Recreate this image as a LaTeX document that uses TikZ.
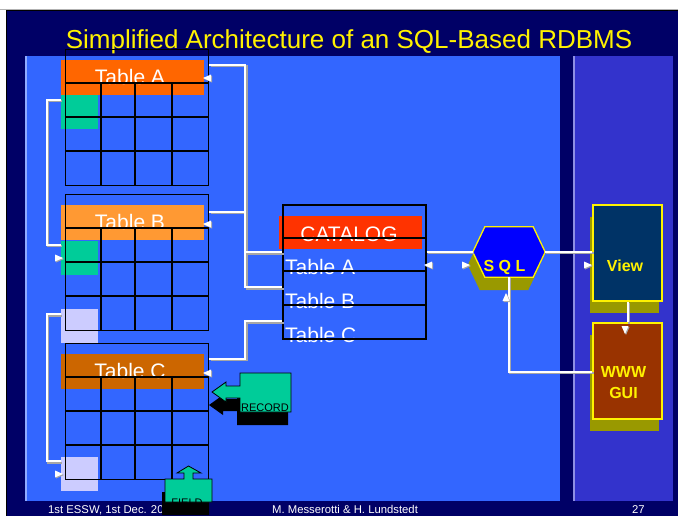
\documentclass[tikz,border=0pt]{standalone}
\usepackage{fontspec}
\setmainfont{Liberation Sans}
\usetikzlibrary{shadows}
\definecolor{slidenavy}{HTML}{000066}
\definecolor{panelblue}{HTML}{3366FF}
\definecolor{panelviolet}{HTML}{3333CC}
\definecolor{hdrA}{HTML}{FF6600}
\definecolor{hdrB}{HTML}{FF9933}
\definecolor{hdrC}{HTML}{CC6600}
\definecolor{hdrcat}{HTML}{FF3300}
\definecolor{keygreen}{HTML}{00CC99}
\definecolor{lilac}{HTML}{CCCCFF}
\definecolor{sqlblue}{HTML}{0000FF}
\definecolor{viewblue}{HTML}{003366}
\definecolor{wwwbrown}{HTML}{993300}
\definecolor{olivesh}{HTML}{999900}
\tikzset{
  tablebox/.style={draw=black,line width=1.3pt,minimum width=143pt,minimum height=136pt,inner sep=0pt},
  catbox/.style={draw=black,line width=1.3pt,minimum width=143pt,minimum height=134pt,inner sep=0pt},
  gridline/.style={black,line width=1.3pt},
  keybox/.style={minimum width=37pt,minimum height=34pt,inner sep=0pt},
  hdrtext/.style={white,inner sep=0pt,anchor=base,font=\fontsize{21}{24}\selectfont},
  celltext/.style={white,inner sep=0pt,anchor=base west,font=\fontsize{21}{24}\selectfont},
  titletext/.style={yellow,inner sep=0pt,anchor=base,font=\fontsize{26}{30}\selectfont},
  foottext/.style={white,inner sep=0pt,anchor=base west,font=\fontsize{11.3}{13}\selectfont},
  boldlabel/.style={yellow,inner sep=0pt,font=\bfseries\fontsize{16}{21}\selectfont},
  calltext/.style={black,inner sep=0pt,anchor=base,font=\fontsize{11}{13}\selectfont},
  yellowsh/.style={drop shadow={shadow xshift=-3pt,shadow yshift=-12pt,fill=olivesh,opacity=1}},
  blacksh/.style={drop shadow={shadow xshift=-3pt,shadow yshift=-13pt,fill=black,opacity=1}},
  appbox/.style={draw=yellow,line width=1.3pt,minimum width=69pt,minimum height=96pt,inner sep=0pt,yellowsh},
  callout/.style={fill=keygreen,draw=black,line width=0.8pt,blacksh},
  link/.style={draw=white,line width=2pt,preaction={draw=gray!70,line width=2pt,transform canvas={shift={(1.2pt,-1.2pt)}}}}
}
\newcommand\linktip[3]{%
  \fill[gray!70,shift={(#1+1,#2+1)},rotate=#3] (0,0) -- (-8,-3.5) -- (-8,3.5) -- cycle;
  \fill[white,shift={(#1,#2)},rotate=#3] (0,0) -- (-8,-3.5) -- (-8,3.5) -- cycle;}
\begin{document}
\begin{tikzpicture}[x=1pt,y=-1pt]
\useasboundingbox (0,0) rectangle (678,515);
\fill[white] (0,0) rectangle (678,515);
\draw[gray!60,line width=1pt] (0,9) -- (678,9);
\filldraw[fill=slidenavy,draw=black,line width=1pt] (6,10) rectangle (679,516);
\fill[panelblue] (25,56) rectangle (560,501);
\fill[panelblue!55!white] (25,56) rectangle (27,501);
\fill[panelviolet] (573,56) rectangle (673,501);
\fill[panelviolet!55!white] (573,56) rectangle (575,501);
\node[titletext] (title) at (349,48) {Simplified Architecture of an SQL-Based RDBMS};

\node[keybox,fill=keygreen] (kA) at (79.5,112) {};
\node[keybox,fill=keygreen] (kB) at (79.5,258) {};
\node[keybox,fill=lilac] (lB) at (79.5,325.5) {};
\node[keybox,fill=lilac] (lC) at (79.5,473.5) {};
\foreach \t/\top/\hdr in {A/49/hdrA,B/194/hdrB,C/343/hdrC}{
  \fill[\hdr] (61,\top+11) rectangle (204,\top+46);
  \node[hdrtext] at (130,\top+35) {Table \t};
  \node[tablebox,anchor=north west] (t\t) at (65,\top) {};
  \foreach \yy in {34,68,102} \draw[gridline] (65,\top+\yy) -- (208,\top+\yy);
  \foreach \xx in {101,135,172} \draw[gridline] (\xx,\top+34) -- (\xx,\top+136);
}

\fill[hdrcat] (279,216) rectangle (422,249);
\node[hdrtext] at (349,241) {CATALOG};
\foreach \r/\yb in {A/274,B/308,C/342} \node[celltext] at (285,\yb) {Table \r};
\node[catbox] (cat) at (354.5,272) {};
\foreach \yy in {238,271,305} \draw[gridline] (283,\yy) -- (426,\yy);

\node[minimum width=72pt,minimum height=50pt,inner sep=0pt] (sql) at (509,252) {};
\filldraw[fill=sqlblue,draw=yellow,line width=1.3pt,drop shadow={shadow xshift=-5pt,shadow yshift=-13pt,fill=olivesh,opacity=1}]
  (sql.west) -- ([xshift=12pt]sql.north west) -- ([xshift=-12pt]sql.north east) -- (sql.east)
  -- ([xshift=-12pt]sql.south east) -- ([xshift=12pt]sql.south west) -- cycle;
\node[boldlabel,anchor=base] at (504.5,271) {S Q L};
\node[appbox,fill=viewblue] (view) at (627.5,253) {};
\node[boldlabel,anchor=base] at (625,271) {View};
\node[appbox,fill=wwwbrown] (www) at (627.5,371) {};
\node[boldlabel,align=center] at (623.5,383) {WWW\\GUI};

\draw[link] ([yshift=-16pt]tA.north east) -- ++(36,0) |- ([yshift=-83pt]cat.north west);
\draw[link] ([yshift=-18pt]tB.north east) -- ++(36,0) |- ([yshift=-48pt]cat.north west);
\draw[link] ([yshift=-16pt]tC.north east) -- ++(36,0) |- ([yshift=-117pt]cat.north west);
\draw[link] ([yshift=-5pt]kA.north west) -- ++(-14,0) |- ([yshift=-4pt]kB.north west);
\draw[link] ([yshift=-6pt]lB.north west) -- ++(-14,0) |- ([yshift=-5pt]lC.north west);
\draw[link] (sql.west -| cat.east) -- (sql.west);
\draw[link] (sql.east) -- (sql.east -| view.west);
\draw[link] (view.south) -- (www.north);
\draw[link] ([yshift=-1pt]www.west) -| (sql.south);
\linktip{203}{78}{180}
\linktip{203}{224}{180}
\linktip{203}{373}{180}
\linktip{63}{258}{0}
\linktip{63}{474}{0}
\linktip{424}{265}{180}
\linktip{470}{265}{0}
\linktip{592}{265}{0}
\linktip{625}{334}{-90}
\linktip{506}{293}{90}

\node[foottext] (date) at (48,513.5) {1st ESSW, 1st Dec. 20};
\node[foottext] (authors) at (272,513.5) {M. Messerotti \& H. Lundstedt};
\node[foottext] (page) at (632,513.5) {27};

\filldraw[callout] (240,373) -- (291,373) -- (291,412) -- (240,412) -- (240,398) -- (226,398)
  -- (226,402) -- (212,392) -- (226,382) -- (226,386) -- (240,386) -- cycle;
\node[calltext] (record) at (265,411) {RECORD};
\filldraw[callout] (165,479) -- (184,479) -- (184,473) -- (177,473) -- (188.5,466) -- (201,473)
  -- (193,473) -- (193,479) -- (212,479) -- (212,502) -- (165,502) -- cycle;
\node[calltext] (field) at (187,506) {FIELD};
\end{tikzpicture}
\end{document}
